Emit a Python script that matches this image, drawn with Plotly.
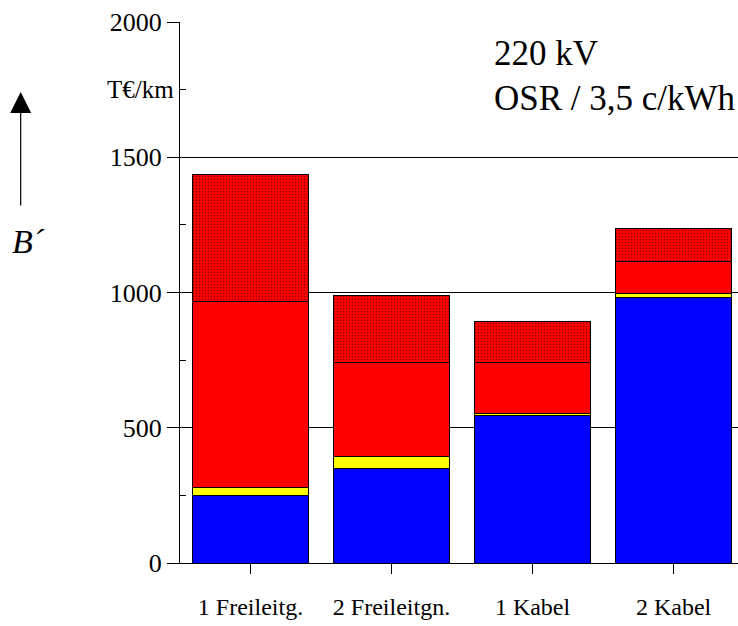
import plotly.graph_objects as go

# categories and stacked cost components (T€/km)
categories = ['1 Freileitg.', '2 Freileitgn.', '1 Kabel', '2 Kabel']
blue_part = [250, 350, 546, 980]
yellow_part = [30, 42, 6, 15]
red_part = [688, 350, 190, 120]
dotted_part = [470, 248, 152, 120]

y_ticks = [0, 500, 1000, 1500, 2000]
y_minor = [250, 750, 1250, 1750]

font_family = 'Liberation Serif, Times New Roman, serif'
bar_width = 0.826
edge = dict(color='black', width=1)

fig = go.Figure()
fig.add_trace(go.Bar(x=categories, y=blue_part, width=bar_width,
                     marker=dict(color='#0000ff', line=edge)))
fig.add_trace(go.Bar(x=categories, y=yellow_part, width=bar_width,
                     marker=dict(color='#ffff00', line=edge)))
fig.add_trace(go.Bar(x=categories, y=red_part, width=bar_width,
                     marker=dict(color='#ff0000', line=edge)))
fig.add_trace(go.Bar(x=categories, y=dotted_part, width=bar_width,
                     marker=dict(color='#ff0000', line=edge,
                                 pattern=dict(shape='.', fgcolor='black', bgcolor='#ff0000',
                                              size=3, solidity=0.15))))

fig.update_layout(
    width=738, height=626,
    barmode='stack',
    showlegend=False,
    plot_bgcolor='white',
    paper_bgcolor='white',
    font=dict(family=font_family, color='black'),
    margin=dict(l=180, r=0, t=22, b=63),
)

fig.update_xaxes(
    range=[-0.5, 3.457],
    showline=True, linecolor='black', linewidth=1,
    ticks='outside', ticklen=10, tickcolor='black', tickwidth=1,
    tickfont=dict(size=24),
    ticklabelstandoff=12,
    showgrid=False, zeroline=False,
)

fig.update_yaxes(
    range=[0, 2000],
    tickvals=y_ticks,
    showline=True, linecolor='black', linewidth=1,
    ticks='outside', ticklen=12, tickcolor='black', tickwidth=1,
    tickfont=dict(size=26),
    showgrid=True, gridcolor='black', gridwidth=1,
    zeroline=False,
    minor=dict(tickvals=y_minor, ticks='inside', ticklen=6, tickcolor='black', showgrid=False),
)

# unit label in the tick column
fig.add_annotation(text='T€/km', xref='paper', x=0, xanchor='right', xshift=-4,
                   yref='y', y=1750, yanchor='middle', showarrow=False,
                   font=dict(size=25))

# voltage / loss-cost note
fig.add_annotation(text='220 kV', xref='paper', x=0.559, xanchor='left',
                   yref='y', y=1885, yanchor='middle', showarrow=False,
                   font=dict(size=35))
fig.add_annotation(text='OSR / 3,5 c/kWh', xref='paper', x=0.559, xanchor='left',
                   yref='y', y=1718, yanchor='middle', showarrow=False,
                   font=dict(size=35))

# axis symbol with upward arrow
fig.add_annotation(text='<i>B´</i>', xref='paper', x=-0.305, xanchor='left',
                   yref='y', y=1190, yanchor='middle', showarrow=False,
                   font=dict(size=34))
fig.add_annotation(text='', xref='paper', x=-0.2855, yref='y', y=1741,
                   ax=0, ay=115, showarrow=True,
                   arrowhead=2, arrowsize=3.5, arrowwidth=1.2, arrowcolor='black')

# drop the default page margin so the figure fills the window exactly
fig.write_html('out.html', config={'displayModeBar': False},
               post_script="document.body.style.margin='0';document.body.style.overflow='hidden';")
